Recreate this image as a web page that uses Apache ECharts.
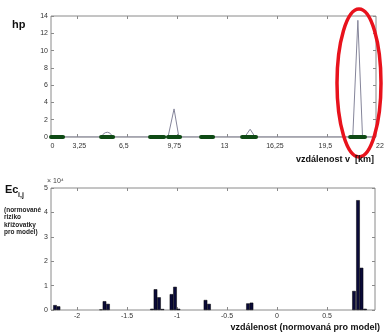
<!DOCTYPE html>
<html>
<head>
<meta charset="utf-8">
<script src="https://cdn.jsdelivr.net/npm/echarts@6/dist/echarts.min.js"></script>
<style>
    html, body {margin: 0; padding: 0; background: #fff;}
    #chart {width: 384px; height: 336px;}
</style>
</head>
<body>
<div id="chart"></div>
<script>
// --- top chart: hp along the route (km) ---
const hpKm = [1.8, 5.03, 5.15, 5.3, 5.45, 5.6, 5.72, 5.81, 9.35, 9.74, 10.05, 14.3, 14.65, 14.97, 21.27, 21.6, 21.9, 22.77];
const hpVal = [0, 0, 0.3, 0.5, 0.55, 0.45, 0.25, 0, 0, 3.25, 0, 0, 0.9, 0, 0, 13.5, 0, 0];
// green segments lying on the axis (start, end in km)
const greenStart = [1.8, 5.03, 8.19, 9.35, 11.48, 14.13, 21.1];
const greenEnd = [2.58, 5.81, 9.1, 10.13, 12.26, 15.03, 22.06];
// tick labels of the top x axis and where they sit
const kmLabels = ['0', '3,25', '6,5', '9,75', '13', '16,25', '19,5', '22,9'];
const kmLabelPos = [1.9, 3.63, 6.5, 9.75, 13, 16.25, 19.5, 22.77];
const kmTickPos = [3.48, 6.71, 9.94, 13.16, 16.39, 19.61];

// --- bottom chart: Ec i,j over normalised distance ---
const ecX = [-2.22, -2.185, -1.76, -1.725, -1.69, -1.25, -1.215, -1.18, -1.145,
    -1.055, -1.02, -0.985, -0.715, -0.68, -0.29, -0.255, 0.77, 0.81, 0.845, 0.88];
const ecVal = [2000, 1500, 200, 3600, 2500, 500, 8500, 5200, 400,
    6500, 9500, 500, 4100, 2500, 2700, 3000, 7800, 45000, 17300, 500];
const normTicks = [-2, -1.5, -1, -0.5, 0, 0.5];

const font = 'Liberation Sans';
const frame = '#8a8a8a';

let myChart = echarts.init(document.getElementById('chart'));

// build line data with gaps for the green pieces
let greenData = [];
for (let i = 0; i < greenStart.length; i++) {
    greenData.push([greenStart[i], 0], [greenEnd[i], 0], [greenEnd[i], null]);
}

let labelStyle = {fontSize: 7, color: '#333', fontFamily: font, margin: 3};
let tickStyle = {inside: true, length: 3, lineStyle: {color: frame}};
let noLine = {show: false, onZero: false};

let option = {
    animation: false,
    grid: [
        // outerBoundsMode none: keep the plot size even though "22,9" runs off the edge
        {left: 51, top: 16, width: 325, height: 121, show: true, borderColor: frame, borderWidth: 1, outerBoundsMode: 'none'},
        {left: 51, top: 188, width: 324, height: 122, show: true, borderColor: frame, borderWidth: 1, outerBoundsMode: 'none'}
    ],
    xAxis: [
        {
            type: 'value', gridIndex: 0, min: 1.8, max: 22.77,
            axisLine: noLine, splitLine: {show: false},
            axisTick: Object.assign({customValues: kmTickPos}, tickStyle),
            axisLabel: Object.assign({}, labelStyle, {
                margin: 6, customValues: kmLabelPos, alignMaxLabel: 'left',
                formatter: v => kmLabels[kmLabelPos.indexOf(v)]
            })
        },
        {
            type: 'value', gridIndex: 0, min: 1.8, max: 22.77, position: 'top',
            axisLine: noLine, splitLine: {show: false}, axisLabel: {show: false},
            axisTick: Object.assign({customValues: kmTickPos}, tickStyle)
        },
        {
            type: 'value', gridIndex: 1, min: -2.26, max: 0.98,
            axisLine: noLine, splitLine: {show: false},
            axisTick: Object.assign({customValues: normTicks}, tickStyle),
            axisLabel: Object.assign({}, labelStyle, {customValues: normTicks})
        },
        {
            type: 'value', gridIndex: 1, min: -2.26, max: 0.98, position: 'top',
            axisLine: noLine, splitLine: {show: false}, axisLabel: {show: false},
            axisTick: Object.assign({customValues: normTicks}, tickStyle)
        }
    ],
    yAxis: [
        {
            type: 'value', gridIndex: 0, min: 0, max: 14, interval: 2,
            axisLine: noLine, splitLine: {show: false},
            axisTick: tickStyle, axisLabel: labelStyle
        },
        {
            type: 'value', gridIndex: 0, min: 0, max: 14, interval: 2, position: 'right',
            axisLine: noLine, splitLine: {show: false}, axisLabel: {show: false},
            axisTick: tickStyle
        },
        {
            type: 'value', gridIndex: 1, min: 0, max: 50000, interval: 10000,
            axisLine: noLine, splitLine: {show: false},
            axisTick: tickStyle,
            axisLabel: Object.assign({}, labelStyle, {formatter: v => v / 10000})
        },
        {
            type: 'value', gridIndex: 1, min: 0, max: 50000, interval: 10000, position: 'right',
            axisLine: noLine, splitLine: {show: false}, axisLabel: {show: false},
            axisTick: tickStyle
        }
    ],
    series: [
        {
            type: 'line', xAxisIndex: 0, yAxisIndex: 0, symbol: 'none',
            lineStyle: {color: '#85859a', width: 1},
            data: hpKm.map((k, i) => [k, hpVal[i]])
        },
        {
            type: 'line', xAxisIndex: 0, yAxisIndex: 0, symbol: 'none', connectNulls: false,
            lineStyle: {color: '#0e4a14', width: 4, cap: 'round'},
            data: greenData
        },
        {
            type: 'bar', xAxisIndex: 2, yAxisIndex: 2, barWidth: 3.6,
            itemStyle: {color: '#0a0a38', borderColor: '#000', borderWidth: 0.5},
            data: ecX.map((x, i) => [x, ecVal[i]])
        }
    ],
    graphic: [
        // red ellipse around the big peak
        {type: 'ellipse', shape: {cx: 359, cy: 83, rx: 22, ry: 74},
            style: {fill: 'none', stroke: '#e8121c', lineWidth: 3.5}, z: 100},
        {type: 'text', left: 12, top: 19, style: {text: 'hp', font: 'bold 11px ' + font, fill: '#111'}},
        {type: 'text', right: 10, top: 155, z: 110, style: {text: 'vzdálenost v  [km]', font: 'bold 9px ' + font, fill: '#111'}},
        {type: 'text', left: 47, top: 178, style: {text: '× 10⁴', font: '7px ' + font, fill: '#444'}},
        {type: 'text', left: 5, top: 184, style: {text: 'Ec', font: 'bold 11px ' + font, fill: '#111'}},
        {type: 'text', left: 18, top: 192, style: {text: 'i,j', font: 'bold 7px ' + font, fill: '#111'}},
        {type: 'text', left: 4, top: 206, style: {
            text: '(normované\nriziko\nkřižovatky\npro model)', font: 'bold 6.5px ' + font,
            lineHeight: 7.6, fill: '#222'}},
        {type: 'text', right: 4, top: 323, style: {text: 'vzdálenost (normovaná pro model)', font: 'bold 9px ' + font, fill: '#111'}}
    ]
};

myChart.setOption(option);
</script>
</body>
</html>
